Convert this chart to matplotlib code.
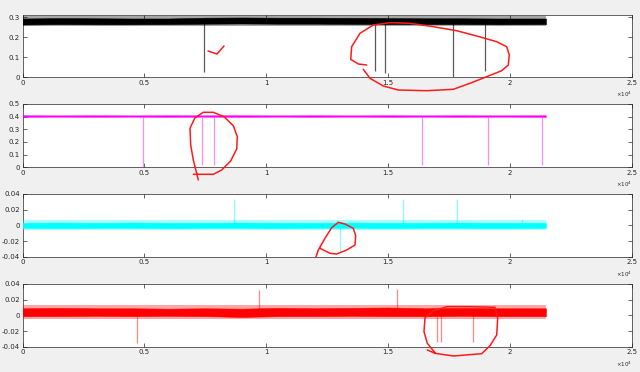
import matplotlib
matplotlib.use("Agg")
import matplotlib.pyplot as plt
from matplotlib.lines import Line2D

W, H = 640, 372
BG = "#f0f0f0"
AX = "#262626"

# ---- data ----
env_x = [0, 1500, 3000, 4500, 6000, 7500, 9000, 10500, 12000, 13500, 15000, 16500, 18000, 19500, 21480]

black_lo = [0.264, 0.266, 0.265, 0.265, 0.266, 0.268, 0.269, 0.268, 0.268, 0.267, 0.266, 0.266, 0.266, 0.265, 0.266]
black_hi = [0.294, 0.296, 0.295, 0.294, 0.294, 0.298, 0.299, 0.298, 0.298, 0.297, 0.296, 0.295, 0.295, 0.294, 0.294]
black_peak = (0.256, 0.306)
black_spk_x = [7460, 14480, 14890, 17650, 18980]
black_spk_end = [0.026, 0.030, 0.022, 0.002, 0.030]
black_base = 0.27

mag_lo = [0.399, 0.400, 0.399, 0.400, 0.399, 0.400, 0.399, 0.400, 0.399, 0.400, 0.399, 0.400, 0.399, 0.400, 0.399]
mag_hi = [0.410, 0.409, 0.410, 0.409, 0.410, 0.409, 0.410, 0.409, 0.410, 0.409, 0.410, 0.409, 0.410, 0.409, 0.410]
mag_peak = (0.394, 0.414)
mag_spk_x = [4960, 7380, 7870, 16410, 19120, 21330]
mag_spk_end = [0.0, 0.02, 0.02, 0.02, 0.02, 0.02]
mag_base = 0.40

cyan_lo = [-0.003, -0.0035, -0.003, -0.003, -0.0035, -0.003, -0.003, -0.0035, -0.003, -0.003, -0.0035, -0.003, -0.003, -0.0035, -0.003]
cyan_hi = [0.003, 0.0035, 0.003, 0.0035, 0.003, 0.003, 0.0035, 0.003, 0.003, 0.0035, 0.003, 0.003, 0.0035, 0.003, 0.003]
cyan_peak = (-0.006, 0.007)
cyan_spk_x = [8690, 15630, 17840, 13040, 20500]
cyan_spk_end = [0.034, 0.033, 0.033, -0.033, 0.008]
cyan_base = 0.0

red_lo = [-0.001, -0.001, -0.0005, -0.001, -0.0005, -0.001, -0.002, -0.001, -0.001, -0.0005, -0.001, -0.001, -0.0005, -0.001, -0.001]
red_hi = [0.009, 0.0095, 0.009, 0.009, 0.0085, 0.009, 0.0085, 0.0095, 0.009, 0.0095, 0.010, 0.009, 0.0095, 0.009, 0.009]
red_peak = (-0.005, 0.013)
red_spk_x = [4690, 9710, 15380, 17020, 17160, 18480]
red_spk_end = [-0.035, 0.032, 0.033, -0.034, -0.034, -0.034]
red_base = 0.004

xticks = [0, 5000, 10000, 15000, 20000, 25000]
xtick_labels = ["0", "0.5", "1", "1.5", "2", "2.5"]

panels = [
    dict(lo=black_lo, hi=black_hi, pk=black_peak, sx=black_spk_x, se=black_spk_end, base=black_base,
         band="black", spike="#5a5a5a", ylim=(0, 0.3115), yticks=[0, 0.1, 0.2, 0.3]),
    dict(lo=mag_lo, hi=mag_hi, pk=mag_peak, sx=mag_spk_x, se=mag_spk_end, base=mag_base,
         band="#ff00ff", spike="#ff88ff", ylim=(0, 0.5), yticks=[0, 0.1, 0.2, 0.3, 0.4, 0.5]),
    dict(lo=cyan_lo, hi=cyan_hi, pk=cyan_peak, sx=cyan_spk_x, se=cyan_spk_end, base=cyan_base,
         band="#00ffff", spike="#88ffff", ylim=(-0.04, 0.04), yticks=[-0.04, -0.02, 0, 0.02, 0.04]),
    dict(lo=red_lo, hi=red_hi, pk=red_peak, sx=red_spk_x, se=red_spk_end, base=red_base,
         band="#ff0000", spike="#ff8888", ylim=(-0.04, 0.04), yticks=[-0.04, -0.02, 0, 0.02, 0.04]),
]

# axes boxes in pixels: (top, bottom)
boxes = [(15, 77.3), (104, 167.3), (194, 256.7), (284, 346.7)]
left_px, right_px = 22.5, 631.7

# hand-drawn red marks on the screenshot (figure pixels, y from top)
marks = [
    [(208, 51), (217, 54), (224, 46)],
    [(366.7, 65), (358.3, 64), (350.7, 59.3), (351.7, 46.7), (360, 33.3), (373.3, 25), (390, 22.7),
     (410, 23.3), (433.3, 26.7), (456.7, 30.7), (476.7, 36), (496.7, 41.7), (506.7, 46.7), (509.3, 55),
     (508.3, 65), (501.7, 70.7), (486.7, 76.7), (470, 83.3), (453.3, 89.3), (426.7, 90.7), (398.3, 90),
     (383.3, 86), (370, 78.3), (363.3, 69.3)],
    [(198.3, 180), (196.7, 173.3), (193.3, 160), (190.7, 145), (190, 128.3), (195, 117.7), (203.3, 112.3),
     (213.3, 112.3), (224, 116.7), (233.3, 125.7), (237.3, 136.7), (236.7, 149), (230.7, 161),
     (221.7, 170), (213.3, 174.3), (193.3, 174.3)],
    [(316, 257), (318.3, 250), (325, 238.3), (331.7, 227.7), (338.3, 222.3), (345, 224), (353.3, 228.3),
     (355.7, 235.7), (355, 245), (346.7, 250), (336.7, 254), (330, 253.3), (320, 248.3)],
    [(427.3, 350), (435, 353.3), (453.3, 356), (481.7, 353.7), (490, 345.7), (496.7, 335), (497.7, 318.3),
     (495, 307.3), (470, 306.7), (446.7, 306.7), (433.3, 311), (425, 317.7), (424, 331.7), (427.3, 343.3),
     (435, 352.7)],
]

fig = plt.figure(figsize=(W / 100, H / 100), dpi=100, facecolor=BG)

for p, (top, bot) in zip(panels, boxes):
    ax = fig.add_axes([left_px / W, 1 - bot / H, (right_px - left_px) / W, (bot - top) / H])
    ax.set_facecolor("white")
    # faint outer fringe of the noise, then the dense core
    ax.fill_between([env_x[0], env_x[-1]], p["pk"][0], p["pk"][1], color=p["band"], alpha=0.35, lw=0, zorder=3)
    ax.fill_between(env_x, p["lo"], p["hi"], color=p["band"], lw=0.4, edgecolor=p["band"], zorder=4)
    ax.vlines(p["sx"], p["base"], p["se"], color=p["spike"], lw=0.9, zorder=2)
    ax.set_xlim(0, 25000)
    ax.set_ylim(*p["ylim"])
    ax.set_xticks(xticks)
    ax.set_xticklabels(xtick_labels)
    ax.set_yticks(p["yticks"])
    ax.set_yticklabels([f"{v:g}" for v in p["yticks"]])
    ax.tick_params(direction="in", length=3, width=0.5, colors=AX, labelsize=5,
                   top=True, right=True, pad=2)
    for s in ax.spines.values():
        s.set_linewidth(0.5)
        s.set_color(AX)
    ax.text(1.0, -0.2, r"$\times10^{4}$", transform=ax.transAxes, ha="right", va="top",
            fontsize=4, color=AX)

for pts in marks:
    xs = [q[0] / W for q in pts]
    ys = [1 - q[1] / H for q in pts]
    fig.add_artist(Line2D(xs, ys, transform=fig.transFigure, color="#ff1a1a", lw=1.1,
                          solid_capstyle="round", solid_joinstyle="round"))

fig.savefig("out.png", dpi=100, facecolor=BG)
